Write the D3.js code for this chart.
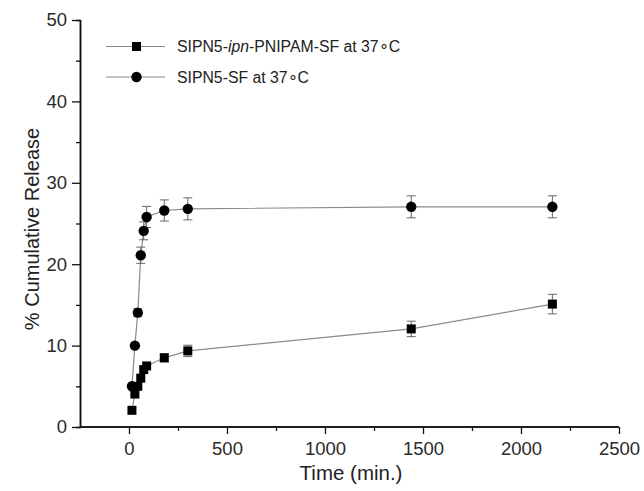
<!DOCTYPE html>
<html>
<head>
<meta charset="utf-8">
<title>Cumulative release</title>
<script src="https://cdn.jsdelivr.net/npm/d3@7"></script>
<style type="text/css">
body { margin: 0; background: #fff; }
svg text { font-family: Arial, "Liberation Sans", sans-serif; fill: #222; }
.conn { fill: none; stroke: #8a8a8a; stroke-width: 1.2px; }
.err { stroke: #666; stroke-width: 1px; }
</style>
</head>
<body>
<svg width="644" height="491"></svg>
<script type="text/javascript">
// time points (min.)
var times = [15, 30, 45, 60, 75, 90, 180, 300, 1440, 2160];
// % cumulative release
var ipnValues = [2.05, 4.05, 5.0, 6.0, 7.05, 7.5, 8.5, 9.35, 12.05, 15.1];
var ipnErrors = [0, 0, 0, 0, 0, 0, 0.5, 0.7, 0.95, 1.2];
var sfValues = [5.0, 10.0, 14.05, 21.1, 24.1, 25.8, 26.6, 26.8, 27.05, 27.05];
var sfErrors = [0, 0, 0.5, 1.0, 1.1, 1.3, 1.3, 1.35, 1.35, 1.35];
var seriesNames = ["SIPN5-ipn-PNIPAM-SF at 37\u2218C", "SIPN5-SF at 37\u2218C"];
var xTicks = [0, 500, 1000, 1500, 2000, 2500];
var yTicks = [0, 10, 20, 30, 40, 50];

var svg = d3.select("svg");
var x = d3.scaleLinear().domain([-250, 2500]).range([80, 619]);
var y = d3.scaleLinear().domain([0, 50]).range([427, 20]);

function rows(vals, errs) {
  return times.map(function(t, i) { return {t: t, v: vals[i], e: errs[i]}; });
}
var series = [
  {name: seriesNames[0], shape: "square", data: rows(ipnValues, ipnErrors)},
  {name: seriesNames[1], shape: "circle", data: rows(sfValues, sfErrors)}
];

// axes
var xAxis = svg.append("g").attr("transform", "translate(0," + y(0) + ")");
xAxis.call(d3.axisBottom(x).tickValues(xTicks).tickFormat(d3.format("d")).tickSize(7).tickSizeOuter(0).tickPadding(8));
xAxis.append("g").call(d3.axisBottom(x).tickValues([250, 750, 1250, 1750, 2250]).tickSize(4).tickFormat(""));
var yAxis = svg.append("g").attr("transform", "translate(" + x(-250) + ",0)");
yAxis.call(d3.axisLeft(y).tickValues(yTicks).tickSize(8).tickSizeOuter(0).tickPadding(5));
yAxis.append("g").call(d3.axisLeft(y).tickValues([5, 15, 25, 35, 45]).tickSize(4).tickFormat(""));
svg.selectAll(".domain").attr("stroke", "#111").attr("stroke-width", 1.5);
svg.selectAll(".tick line").attr("stroke", "#111").attr("stroke-width", 1.3);
svg.selectAll(".tick text").style("font-size", "18.5px").style("fill", "#2a2a2a");
// keep the x-axis line starting at the y axis
xAxis.selectAll(".domain").attr("d", "M" + x(-250) + ",0H" + x(2500));

svg.append("text").attr("x", 351).attr("y", 480).attr("text-anchor", "middle")
  .style("font-size", "20.5px").text("Time (min.)");
svg.append("text").attr("transform", "translate(39,229) rotate(-90)")
  .attr("text-anchor", "middle").style("font-size", "20px").text("% Cumulative Release");

var line = d3.line().x(function(d) { return x(d.t); }).y(function(d) { return y(d.v); });

function drawMarker(sel, shape) {
  if (shape === "square") {
    sel.append("rect").attr("x", -4.5).attr("y", -4.5).attr("width", 9).attr("height", 9).attr("fill", "#000");
  } else {
    sel.append("circle").attr("r", 5.2).attr("fill", "#000");
  }
}

series.forEach(function(s) {
  svg.append("path").attr("class", "conn").attr("d", line(s.data));
  var eb = svg.append("g");
  s.data.filter(function(d) { return d.e > 0; }).forEach(function(d) {
    var cx = x(d.t);
    eb.append("line").attr("class", "err").attr("x1", cx).attr("x2", cx).attr("y1", y(d.v - d.e)).attr("y2", y(d.v + d.e));
    eb.append("line").attr("class", "err").attr("x1", cx - 4.5).attr("x2", cx + 4.5).attr("y1", y(d.v - d.e)).attr("y2", y(d.v - d.e));
    eb.append("line").attr("class", "err").attr("x1", cx - 4.5).attr("x2", cx + 4.5).attr("y1", y(d.v + d.e)).attr("y2", y(d.v + d.e));
  });
  svg.selectAll(null).data(s.data).enter().append("g")
    .attr("transform", function(d) { return "translate(" + x(d.t) + "," + y(d.v) + ")"; })
    .each(function() { drawMarker(d3.select(this), s.shape); });
});

// legend
var legend = svg.append("g");
series.forEach(function(s, i) {
  var ly = 46.5 + i * 30.5;
  legend.append("line").attr("x1", 106).attr("x2", 165).attr("y1", ly).attr("y2", ly).attr("stroke", "#8a8a8a").attr("stroke-width", 1.2);
  drawMarker(legend.append("g").attr("transform", "translate(136.5," + ly + ")"), s.shape);
  var t = legend.append("text").attr("x", 177).attr("y", ly + 5.5).style("font-size", "15.8px");
  if (i === 0) {
    t.append("tspan").text("SIPN5-");
    t.append("tspan").style("font-style", "italic").text("ipn");
    t.append("tspan").text("-PNIPAM-SF at 37\u2218C");
  } else {
    t.text(s.name);
  }
});
</script>
</body>
</html>
